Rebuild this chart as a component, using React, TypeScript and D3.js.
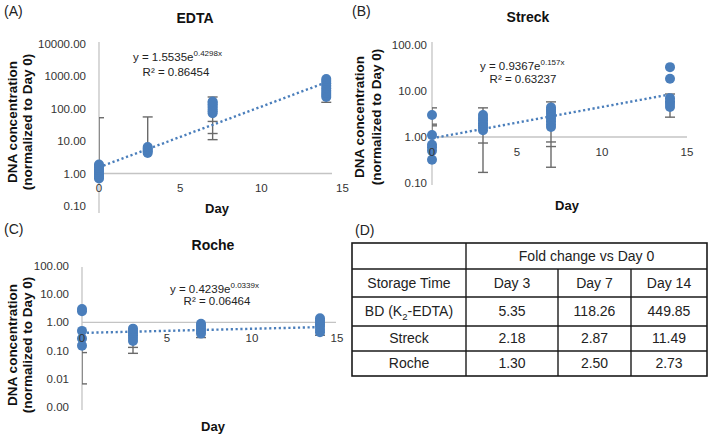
import * as d3 from 'd3';

const FONT = "'Liberation Sans', Arial, sans-serif";
const BLUE = '#4a7ebb';
const ERR = '#6a6a6a';
const AXIS = '#c4c4c4';

const days = [0, 3, 7, 14];
const dayTicks = [0, 5, 10, 15];

// (A) EDTA: normalized DNA concentration per storage day
const edtaValues = [
  [0.7, 0.8, 0.9, 1.0, 1.15, 1.3, 1.5, 1.7, 1.9],
  [4.3, 4.8, 5.3, 5.9, 6.5],
  [72, 82, 92, 105, 120, 135, 150, 165],
  [225, 260, 300, 350, 420, 500, 600, 700, 810],
];
const edtaErrLines = [[0, 0.7, 52], [3, 5, 55], [7, 11, 226], [14, 155, 250]];
const edtaErrCaps = [[0, 52], [3, 55], [7, 226], [7, 40], [7, 17], [7, 11], [14, 155]];
const edtaFit = { a: 1.5535, b: 0.4298, r2: '0.86454', label: '1.5535', exp: '0.4298x' };
const edtaTicks = [0.1, 1, 10, 100, 1000, 10000];

// (B) Streck
const streckValues = [
  [3.0, 1.1, 0.68, 0.6, 0.5, 0.32],
  [1.4, 1.6, 1.8, 2.0, 2.3, 2.6, 3.0],
  [1.65, 1.9, 2.2, 2.5, 2.8, 3.2, 3.6, 4.0, 4.4],
  [33, 18.5, 7.0, 6.0, 5.2, 4.5],
];
const streckErrLines = [[0, 1.1, 4.3], [3, 0.17, 4.3], [7, 0.22, 5.8], [14, 2.7, 8.6]];
const streckErrCaps = [
  [0, 4.3], [0, 1.9], [0, 1.75], [3, 4.3], [3, 0.74], [3, 0.17],
  [7, 5.8], [7, 0.78], [7, 0.62], [7, 0.22], [14, 8.6], [14, 5.8], [14, 2.7],
];
const streckFit = { a: 0.9367, b: 0.157, r2: '0.63237', label: '0.9367', exp: '0.157x' };
const streckTicks = [0.1, 1, 10, 100];

// (C) Roche
const rocheValues = [
  [3.0, 2.5, 0.5, 0.27, 0.15],
  [0.22, 0.28, 0.35, 0.42, 0.5, 0.6],
  [0.4, 0.5, 0.6, 0.75, 0.9],
  [0.45, 0.55, 0.7, 0.85, 1.0, 1.2, 1.4],
];
const rocheErrLines = [[0, 0.0066, 0.12], [3, 0.08, 0.5], [7, 0.29, 0.6], [14, 0.35, 0.6]];
const rocheErrCaps = [[0, 0.0066], [0, 0.085], [3, 0.08], [3, 0.13], [7, 0.29], [14, 0.35]];
const rocheFit = { a: 0.4239, b: 0.0339, r2: '0.06464', label: '0.4239', exp: '0.0339x' };
const rocheTicks = [0.001, 0.01, 0.1, 1, 10, 100];

// (D) fold change table
const tableCols = ['Day 3', 'Day 7', 'Day 14'];
const tableRows = ['BD (K2-EDTA)', 'Streck', 'Roche'];
const foldChange = [
  ['5.35', '118.26', '449.85'],
  ['2.18', '2.87', '11.49'],
  ['1.30', '2.50', '2.73'],
];

const panels = [
  {
    id: 'A', title: 'EDTA', values: edtaValues, errLines: edtaErrLines, errCaps: edtaErrCaps,
    fit: edtaFit, ticks: edtaTicks,
    xRange: [99, 342.5], yDomain: [0.1, 10000], yRange: [206, 43.5],
    axisTop: 42, axisBottom: 213, xAxisEnd: 332, tickRight: 86, xLabelY: 192,
    tag: [4, 16], titlePos: [195, 23], dayPos: [217, 213],
    yTitleX: [12, 27], yTitleY: 122, eq: [133, 61], r2: [176, 76],
  },
  {
    id: 'B', title: 'Streck', values: streckValues, errLines: streckErrLines, errCaps: streckErrCaps,
    fit: streckFit, ticks: streckTicks,
    xRange: [432, 687], yDomain: [0.1, 100], yRange: [183, 45],
    axisTop: 42, axisBottom: 185, xAxisEnd: 687, tickRight: 427, xLabelY: 156,
    tag: [352, 16], titlePos: [528, 22], dayPos: [567, 210],
    yTitleX: [359, 376], yTitleY: 117, eq: [480, 70], r2: [523, 83],
  },
  {
    id: 'C', title: 'Roche', values: rocheValues, errLines: rocheErrLines, errCaps: rocheErrCaps,
    fit: rocheFit, ticks: rocheTicks,
    xRange: [82, 337], yDomain: [0.001, 100], yRange: [407, 266],
    axisTop: 267, axisBottom: 410, xAxisEnd: 336, tickRight: 69, xLabelY: 342,
    tag: [4, 234], titlePos: [213, 250], dayPos: [213, 431],
    yTitleX: [12, 27], yTitleY: 345, eq: [170, 293], r2: [217, 305],
  },
];

function Panel({ p }) {
  const x = d3.scaleLinear().domain([0, 15]).range(p.xRange);
  const y = d3.scaleLog().domain(p.yDomain).range(p.yRange);
  const fmt = d3.format('.2f');
  const x0 = x(0);
  const fitLine = d3.line<number>()
    .x(d => x(d))
    .y(d => y(p.fit.a * Math.exp(p.fit.b * d)));
  const fitDays = d3.range(0, 14.001, 0.25);
  const clipId = `clip-${p.id}`;

  return (
    <g fontFamily={FONT}>
      <defs>
        <clipPath id={clipId}>
          <rect x={x0} y={0} width={400} height={434} />
        </clipPath>
      </defs>
      <text x={p.tag[0]} y={p.tag[1]} fontSize={14} fill="#222">({p.id})</text>
      <text x={p.titlePos[0]} y={p.titlePos[1]} fontSize={14} fontWeight="bold" textAnchor="middle" fill="#111">
        {p.title}
      </text>

      {/* axis lines */}
      <line x1={x0} x2={x0} y1={p.axisTop} y2={p.axisBottom} stroke={AXIS} strokeWidth={1.3} />
      <line x1={x0} x2={p.xAxisEnd} y1={y(1)} y2={y(1)} stroke={AXIS} strokeWidth={1.3} />

      {p.ticks.map(t => (
        <text key={t} x={p.tickRight} y={y(t)} dy="0.35em" fontSize={11.5} textAnchor="end" fill="#333">
          {fmt(t)}
        </text>
      ))}

      <text x={p.dayPos[0]} y={p.dayPos[1]} fontSize={13} fontWeight="bold" textAnchor="middle" fill="#111">Day</text>
      {['DNA concentration', '(normalized to Day 0)'].map((s, i) => (
        <text
          key={s}
          transform={`translate(${p.yTitleX[i]},${p.yTitleY}) rotate(-90)`}
          dy="0.35em"
          fontSize={13.5}
          fontWeight="bold"
          textAnchor="middle"
          fill="#111"
        >
          {s}
        </text>
      ))}

      {/* error bars */}
      <g clipPath={`url(#${clipId})`} stroke={ERR} strokeWidth={1.4}>
        {p.errLines.map((e, i) => (
          <line key={i} x1={x(e[0])} x2={x(e[0])} y1={y(e[1])} y2={y(e[2])} />
        ))}
        {p.errCaps.map((c, i) => (
          <line key={i} x1={x(c[0]) - 5} x2={x(c[0]) + 5} y1={y(c[1])} y2={y(c[1])} />
        ))}
      </g>

      {/* points */}
      {p.values.map((vals, i) =>
        vals.map((v, j) => (
          <circle key={`${i}-${j}`} cx={x(days[i])} cy={y(v)} r={5} fill={BLUE} />
        ))
      )}

      {/* exponential trendline */}
      <path
        d={fitLine(fitDays) || ''}
        fill="none"
        stroke={BLUE}
        strokeWidth={2.4}
        strokeDasharray="2.2 2.6"
      />

      {/* day labels sit on top of the markers */}
      {dayTicks.map(t => (
        <text key={t} x={x(t)} y={p.xLabelY} fontSize={11.5} textAnchor="middle" fill="#333">{t}</text>
      ))}

      <text x={p.eq[0]} y={p.eq[1]} fontSize={11.5} fill="#222">
        y = {p.fit.label}e
        <tspan fontSize={8} dy={-5}>{p.fit.exp}</tspan>
      </text>
      <text x={p.r2[0]} y={p.r2[1]} fontSize={11.5} textAnchor="middle" fill="#222">
        R² = {p.fit.r2}
      </text>
    </g>
  );
}

function FoldTable() {
  const xs = [352, 466, 558, 631, 707];
  const ys = [243, 269, 297, 326, 351, 376];
  const mid = (a: number, b: number) => (a + b) / 2;
  const stroke = '#1a1a1a';
  return (
    <g fontFamily={FONT} fontSize={14} fill="#222">
      <text x={355} y={235} fontSize={14}>(D)</text>
      <rect x={xs[0]} y={ys[0]} width={xs[4] - xs[0]} height={ys[5] - ys[0]} fill="none" stroke={stroke} strokeWidth={1.6} />
      {ys.slice(1, 5).map(yy => (
        <line key={yy} x1={xs[0]} x2={xs[4]} y1={yy} y2={yy} stroke={stroke} strokeWidth={1.4} />
      ))}
      <line x1={xs[1]} x2={xs[1]} y1={ys[0]} y2={ys[5]} stroke={stroke} strokeWidth={1.4} />
      {[xs[2], xs[3]].map(xx => (
        <line key={xx} x1={xx} x2={xx} y1={ys[1]} y2={ys[5]} stroke={stroke} strokeWidth={1.4} />
      ))}
      <text x={mid(xs[1], xs[4])} y={mid(ys[0], ys[1])} dy="0.35em" textAnchor="middle">Fold change vs Day 0</text>
      <text x={mid(xs[0], xs[1])} y={mid(ys[1], ys[2])} dy="0.35em" textAnchor="middle">Storage Time</text>
      {tableCols.map((c, i) => (
        <text key={c} x={mid(xs[i + 1], xs[i + 2])} y={mid(ys[1], ys[2])} dy="0.35em" textAnchor="middle">{c}</text>
      ))}
      {tableRows.map((r, i) => (
        <g key={r}>
          <text x={mid(xs[0], xs[1])} y={mid(ys[i + 2], ys[i + 3])} dy="0.35em" textAnchor="middle">
            {r.startsWith('BD') ? (
              <>
                BD (K<tspan fontSize={9.5} dy={4}>2</tspan><tspan dy={-4}>-EDTA)</tspan>
              </>
            ) : r}
          </text>
          {foldChange[i].map((v, j) => (
            <text key={j} x={mid(xs[j + 1], xs[j + 2])} y={mid(ys[i + 2], ys[i + 3])} dy="0.35em" textAnchor="middle">
              {v}
            </text>
          ))}
        </g>
      ))}
    </g>
  );
}

export default function App() {
  return (
    <svg
      width={709}
      height={434}
      style={{ position: 'absolute', left: 0, top: 0, background: '#fff' }}
    >
      <rect width={709} height={434} fill="#fff" />
      {panels.map(p => <Panel key={p.id} p={p} />)}
      <FoldTable />
    </svg>
  );
}
